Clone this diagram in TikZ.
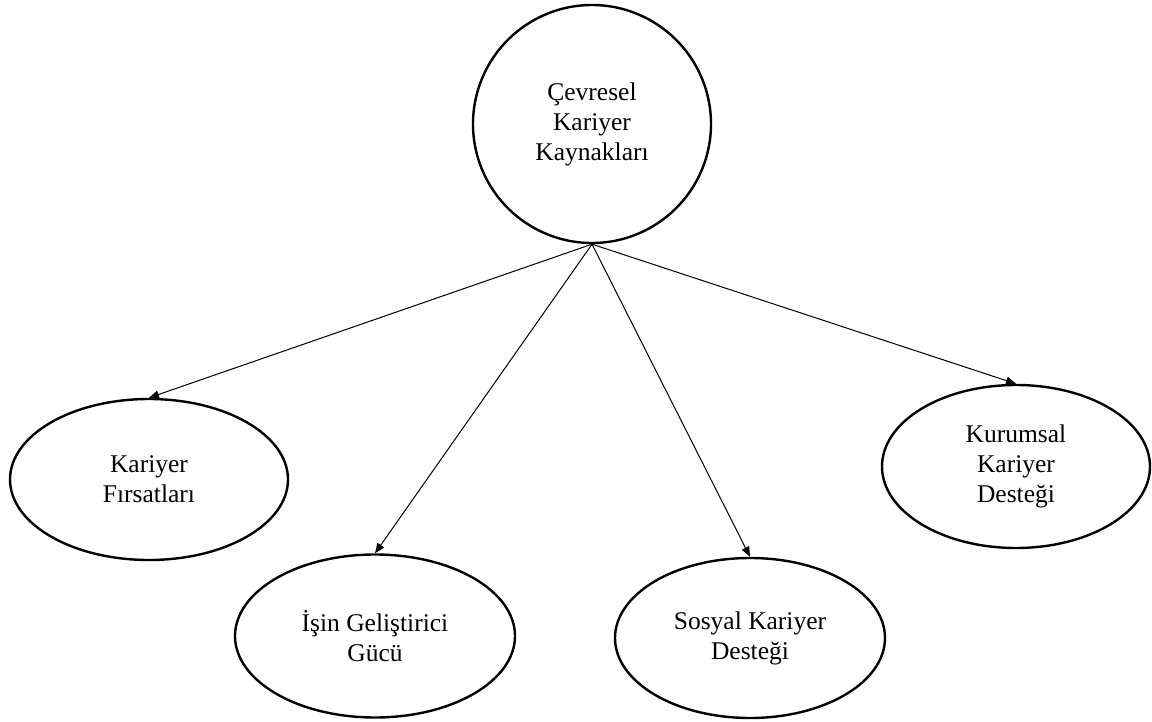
\documentclass[tikz,border=0pt]{standalone}
\usepackage{fontspec}
\setmainfont{Liberation Serif}
\usetikzlibrary{shapes.geometric,arrows.meta}

\begin{document}
\begin{tikzpicture}[x=0.5pt,y=-0.5pt,
  kutu/.style={draw, line width=1.2pt, ellipse, inner sep=0pt, align=center,
    font=\fontsize{12.75}{15}\selectfont},
  ok/.style={-{Triangle[length=5pt,width=4pt]}, line width=0.5pt}]
\useasboundingbox (0,0) rectangle (1152,722);
\node[kutu, circle, minimum size=119pt] (cevre) at (592,124) {Çevresel\\Kariyer\\Kaynakları};
\node[kutu, minimum width=139pt, minimum height=80.5pt] (firsat) at (149,479.5) {Kariyer\\Fırsatları};
\node[kutu, minimum width=140pt, minimum height=81.5pt] (isin) at (375,636) {İşin Geliştirici\\Gücü};
\node[kutu, minimum width=135pt, minimum height=80pt] (sosyal) at (750,638) {Sosyal Kariyer\\Desteği};
\node[kutu, minimum width=134pt, minimum height=81.5pt] (kurum) at (1016,466.5) {Kurumsal\\Kariyer\\Desteği};
\draw[ok] (cevre.south) -- (firsat.north);
\draw[ok] (cevre.south) -- (isin.north);
\draw[ok] (cevre.south) -- (sosyal.north);
\draw[ok] (cevre.south) -- (kurum.north);
\end{tikzpicture}
\end{document}
